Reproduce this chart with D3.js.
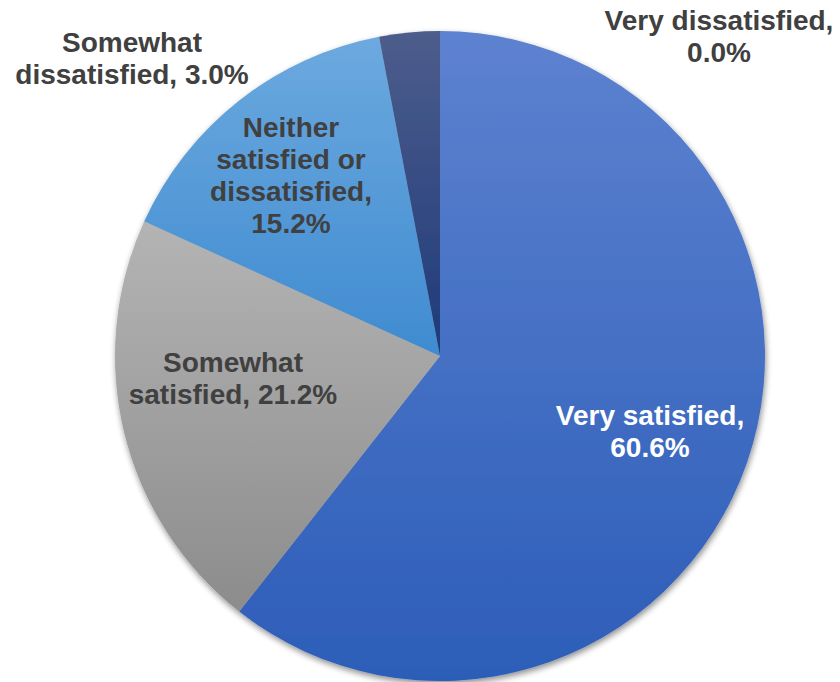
<!DOCTYPE html>
<html><head><meta charset="utf-8">
<script src="https://cdn.jsdelivr.net/npm/d3@7"></script>
<style>body{margin:0;background:#fff}svg{display:block}
text{font-family:"Liberation Sans",Arial,sans-serif;font-weight:bold}</style>
</head><body>
<svg id="c" width="840" height="682"></svg>
<script>
const categories = ["Very satisfied","Somewhat satisfied","Neither satisfied or dissatisfied","Somewhat dissatisfied","Very dissatisfied"];
const values = [60.6, 21.2, 15.2, 3.0, 0.0];
const labelLines = [["Very satisfied,","60.6%"],["Somewhat","satisfied, 21.2%"],["Neither","satisfied or","dissatisfied,","15.2%"],["Somewhat","dissatisfied, 3.0%"],["Very dissatisfied,","0.0%"]];
const colorsTop = ["#5d82d0","#b4b4b4","#6ca9df","#4d5d8c","#4d5d8c"];
const colorsBot = ["#2c5db8","#8c8c8c","#3f8bd0","#1e3a7a","#1e3a7a"];
// label anchor: [center x, first baseline]
const labelPos = [[650,425],[233,372],[291,137],[132,52],[719,30]];
const textColor = ["#ffffff","#404040","#404040","#404040","#404040"];

const svg = d3.select("#c");
const cx = 440, cy = 356, r = 325;
const defs = svg.append("defs");
const f = defs.append("filter").attr("id","sh").attr("x","-10%").attr("y","-10%").attr("width","120%").attr("height","120%");
f.append("feGaussianBlur").attr("in","SourceAlpha").attr("stdDeviation",3);
f.append("feOffset").attr("dx",1).attr("dy",3).attr("result","o");
f.append("feComponentTransfer").append("feFuncA").attr("type","linear").attr("slope",0.45);
const m = f.append("feMerge"); m.append("feMergeNode"); m.append("feMergeNode").attr("in","SourceGraphic");

categories.forEach((c,i)=>{
  const g = defs.append("linearGradient").attr("id","g"+i).attr("x1",0).attr("y1",0).attr("x2",0).attr("y2",1);
  g.append("stop").attr("offset","0%").attr("stop-color",colorsTop[i]);
  g.append("stop").attr("offset","100%").attr("stop-color",colorsBot[i]);
});

const pie = d3.pie().sort(null).value(d=>d)(values);
const arc = d3.arc().innerRadius(0).outerRadius(r);
const gp = svg.append("g").attr("transform",`translate(${cx},${cy})`).attr("filter","url(#sh)");
gp.selectAll("path").data(pie.filter(d=>d.value>0)).join("path")
  .attr("d",arc).attr("fill",d=>`url(#g${d.index})`);

labelLines.forEach((lines,i)=>{
  const lh = 32;
  const t = svg.append("text").attr("text-anchor","middle")
    .attr("font-size",28).attr("fill",textColor[i]);
  lines.forEach((l,j)=>t.append("tspan").attr("x",labelPos[i][0]).attr("y",labelPos[i][1]+j*lh).text(l));
});
</script>
</body></html>
